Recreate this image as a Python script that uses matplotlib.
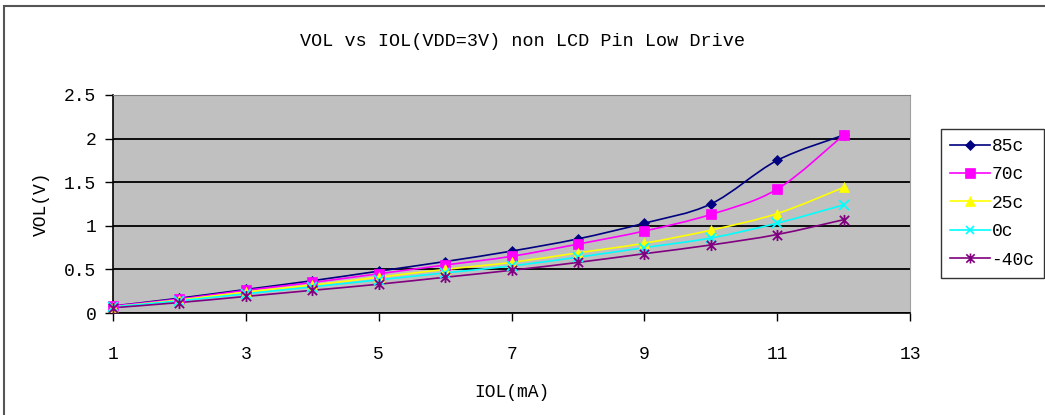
import numpy as np
import matplotlib
matplotlib.use("Agg")
import matplotlib.pyplot as plt
from matplotlib.path import Path
from matplotlib.patches import PathPatch, Rectangle
from matplotlib.lines import Line2D

# data
iol = [1, 2, 3, 4, 5, 6, 7, 8, 9, 10, 11, 12]
vol_85c = [0.08, 0.17, 0.27, 0.37, 0.48, 0.59, 0.71, 0.85, 1.03, 1.25, 1.75, 2.04]
vol_70c = [0.08, 0.16, 0.26, 0.35, 0.45, 0.55, 0.65, 0.79, 0.94, 1.13, 1.42, 2.04]
vol_25c = [0.07, 0.15, 0.24, 0.32, 0.41, 0.50, 0.58, 0.69, 0.80, 0.95, 1.14, 1.44]
vol_0c = [0.07, 0.14, 0.22, 0.30, 0.38, 0.46, 0.54, 0.64, 0.75, 0.86, 1.03, 1.24]
vol_m40c = [0.06, 0.12, 0.19, 0.26, 0.33, 0.41, 0.49, 0.58, 0.68, 0.78, 0.90, 1.07]

labels = ["85c", "70c", "25c", "0c", "-40c"]
xticks = [1, 3, 5, 7, 9, 11, 13]
yticks = [0, 0.5, 1, 1.5, 2, 2.5]
ytick_labels = ["0", "0.5", "1", "1.5", "2", "2.5"]

series = [vol_85c, vol_70c, vol_25c, vol_0c, vol_m40c]
colors = ["#000080", "#FF00FF", "#FFFF00", "#00FFFF", "#800080"]

# Excel "star": an x with a vertical bar through it
star = Path([(-1, -1), (1, 1), (-1, 1), (1, -1), (0, -1.2), (0, 1.2)],
            [Path.MOVETO, Path.LINETO] * 3)
markers = ["D", "s", "^", "x", star]
msizes = [5.5, 7.5, 7.5, 7, 8]
thin = [True, True, True, False, False]

plt.rcParams['font.family'] = ['Liberation Mono', 'DejaVu Sans Mono']
FS = 13


def smooth_path(xs, ys):
    # Excel-style smoothed line: cubic Bezier through each point
    p = np.column_stack([xs, ys]).astype(float)
    n = len(p)
    verts = [p[0]]
    codes = [Path.MOVETO]
    for i in range(n - 1):
        p0 = p[i - 1] if i > 0 else p[i]
        p3 = p[i + 2] if i + 2 < n else p[i + 1]
        c1 = p[i] + (p[i + 1] - p0) / 6.0
        c2 = p[i + 1] - (p3 - p[i]) / 6.0
        verts += [c1, c2, p[i + 1]]
        codes += [Path.CURVE4] * 3
    return Path(verts, codes)


fig = plt.figure(figsize=(10.45, 4.15), dpi=100)
fig.patches.append(Rectangle((4 / 1045, -0.05), 1.1, 1 - 6 / 415 + 0.05,
                             transform=fig.transFigure, fill=False,
                             edgecolor="#555555", linewidth=1.5))

ax = fig.add_axes([113 / 1045, 1 - 313 / 415, (910 - 113) / 1045, (313 - 95) / 415])
ax.set_facecolor("#C0C0C0")

for ys, c, m, ms, t in zip(series, colors, markers, msizes, thin):
    ax.add_patch(PathPatch(smooth_path(iol, ys), fill=False, edgecolor=c,
                           linewidth=1.2, zorder=3))
    ax.plot(iol, ys, linestyle="none", marker=m, markersize=ms, color=c,
            markeredgecolor=c, markeredgewidth=0.5 if t else 1.3,
            zorder=4, clip_on=False)

ax.set_xlim(1, 13)
ax.set_ylim(0, 2.5)
ax.set_xticks(xticks)
ax.set_yticks(yticks)
ax.set_yticklabels(ytick_labels)
ax.tick_params(labelsize=FS, direction="out", length=6, width=1, colors="black")
ax.tick_params(axis="x", pad=18)
ax.tick_params(axis="y", pad=6)
ax.yaxis.grid(True, color="black", linewidth=1.3)
ax.set_axisbelow(True)

ax.spines["left"].set_color("black")
ax.spines["bottom"].set_color("black")
ax.spines["left"].set_linewidth(1.2)
ax.spines["bottom"].set_linewidth(1.2)
ax.spines["top"].set_color("#808080")
ax.spines["right"].set_color("#A0A0A0")

ax.set_xlabel("IOL(mA)", fontsize=FS, labelpad=15)
ax.set_ylabel("VOL(V)", fontsize=FS, labelpad=10)
fig.text(522 / 1045, 1 - 41 / 415, "VOL vs IOL(VDD=3V) non LCD Pin Low Drive",
         fontsize=FS + 0.3, ha="center", va="center")

handles = [Line2D([], [], color=c, marker=m, markersize=ms * 0.9, linewidth=1.2,
                  markeredgewidth=0.5 if t else 1.2)
           for c, m, ms, t in zip(colors, markers, msizes, thin)]
leg = fig.legend(handles, labels, loc="upper left",
                 bbox_to_anchor=(941 / 1045, 1 - 129 / 415), fontsize=FS,
                 frameon=True, fancybox=False, edgecolor="black",
                 handlelength=2.2, handletextpad=0.1, labelspacing=0.63,
                 borderpad=0.5, borderaxespad=0)
leg.get_frame().set_linewidth(1.0)

fig.savefig("out.png", dpi=100)
